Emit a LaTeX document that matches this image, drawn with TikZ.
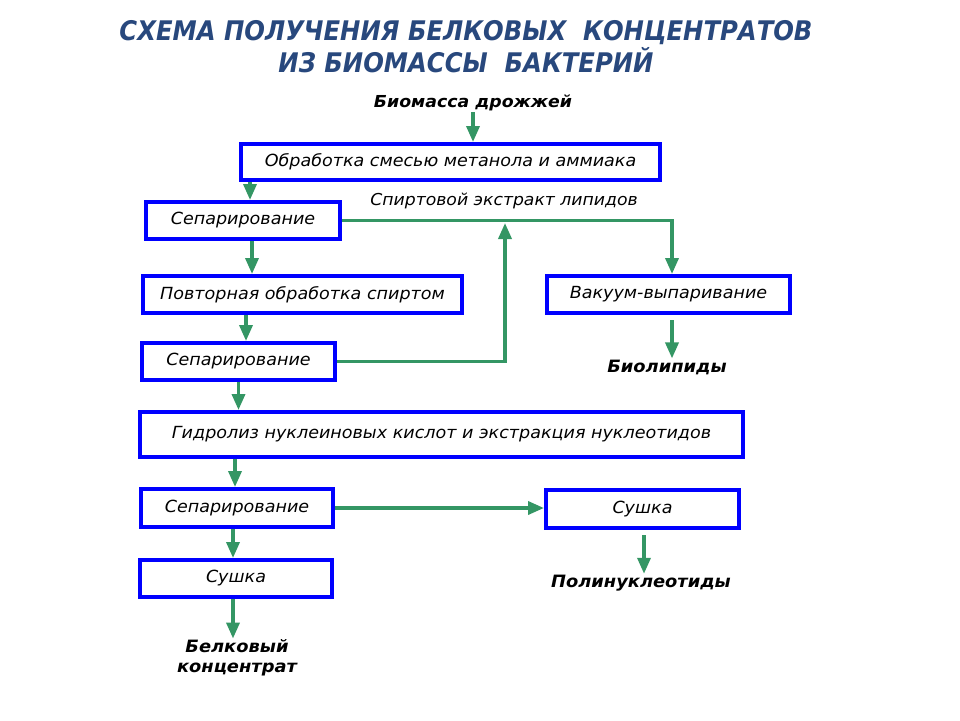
\documentclass[tikz,border=0pt]{standalone}
\usepackage{fontspec}
\setmainfont{DejaVu Sans}
\newfontfamily\boxfont[FakeStretch=1.05]{DejaVu Sans}
\newfontfamily\titlefont[FakeStretch=0.9]{DejaVu Sans}
\usetikzlibrary{arrows.meta,calc}
\definecolor{boxblue}{RGB}{0,0,255}
\definecolor{arrgreen}{RGB}{52,150,100}
\definecolor{titleblue}{RGB}{40,72,125}
\tikzset{
  proc/.style={draw=boxblue, line width=4pt, fill=white, inner sep=0pt,
    font=\boxfont\itshape\fontsize{16.7}{19}\selectfont, text=black},
  lbl/.style={font=\boxfont\bfseries\itshape\fontsize{17}{20}\selectfont, text=black, inner sep=1pt},
  plain/.style={font=\boxfont\itshape\fontsize{16.4}{19}\selectfont, text=black, inner sep=1pt},
  conn/.style={draw=arrgreen, line width=3.5pt},
  arr/.style={conn, -{Triangle[width=13pt,length=16pt]}},
}
\begin{document}
\begin{tikzpicture}[x=1pt,y=-1pt]
\useasboundingbox (0,0) rectangle (960,720);
% title
\node[font=\titlefont\bfseries\itshape\fontsize{27}{32}\selectfont, text=titleblue, align=center] (title) at (466,46.5)
  {СХЕМА ПОЛУЧЕНИЯ БЕЛКОВЫХ\ \ КОНЦЕНТРАТОВ\\ИЗ БИОМАССЫ\ \ БАКТЕРИЙ};
% boxes
\node[proc, minimum width=419pt, minimum height=36pt] (obr) at (450.5,162) {Обработка смесью метанола и аммиака};
\node[proc, minimum width=194pt, minimum height=37pt] (sep1) at (243,220.5) {Сепарирование};
\node[proc, minimum width=319pt, minimum height=37pt] (povt) at (302.5,294.5) {Повторная обработка спиртом};
\node[proc, minimum width=243pt, minimum height=37pt] (vak) at (668.5,294.5) {Вакуум-выпаривание};
\node[proc, minimum width=193pt, minimum height=37pt] (sep2) at (238.5,361.5) {Сепарирование};
\node[proc, minimum width=603pt, minimum height=45pt] (gidr) at (441.5,434.5) {Гидролиз нуклеиновых кислот и экстракция нуклеотидов};
\node[proc, minimum width=192pt, minimum height=38pt] (sep3) at (237,508) {Сепарирование};
\node[proc, minimum width=193pt, minimum height=38pt] (sush2) at (642.5,509) {Сушка};
\node[proc, minimum width=192pt, minimum height=37pt] (sush1) at (236,578.5) {Сушка};
% labels
\node[lbl, font=\boxfont\bfseries\itshape\fontsize{16.5}{20}\selectfont] (bio) at (473,103) {Биомасса дрожжей};
\node[plain] (spirt) at (504,201) {Спиртовой экстракт липидов};
\node[lbl] (biolip) at (667,367) {Биолипиды};
\node[lbl] (polin) at (641,583) {Полинуклеотиды};
\node[lbl, align=center] (belk) at (237,658) {Белковый\\концентрат};
\coordinate (jn) at (505,223);
% connectors
\draw[arr] (bio.south) -- (bio.south |- obr.north);
\draw[arr] ([xshift=7pt]sep1.north |- obr.south) -- ([xshift=7pt]sep1.north);
\draw[arr] ([xshift=9pt]sep1.south) -- ([xshift=9pt]sep1.south |- povt.north);
\draw[arr] ([xshift=7.5pt]sep2.north |- povt.south) -- ([xshift=7.5pt]sep2.north);
\draw[arr] (sep2.south) -- (sep2.south |- gidr.north);
\draw[arr] ([xshift=-2pt]sep3.north |- gidr.south) -- ([xshift=-2pt]sep3.north);
\draw[arr] ([xshift=-4pt]sep3.south) -- ([xshift=-4pt]sep3.south |- sush1.north);
\draw[arr] ([xshift=-3pt]sush1.south) -- ([xshift=-3pt]sush1.south |- belk.north);
\draw[arr] (sep1.east) -| ([xshift=3.5pt]vak.north);
\draw[arr] (sep2.east) -| (jn);
\draw[arr] ([xshift=3.5pt,yshift=-5pt]vak.south) -- ([xshift=3.5pt]vak.south |- biolip.north);
\draw[arr] (sep3.east) -- (sep3.east -| sush2.west);
\draw[arr] ([xshift=1.5pt,yshift=-5pt]sush2.south) -- ([xshift=1.5pt]sush2.south |- polin.north);
\end{tikzpicture}
\end{document}
